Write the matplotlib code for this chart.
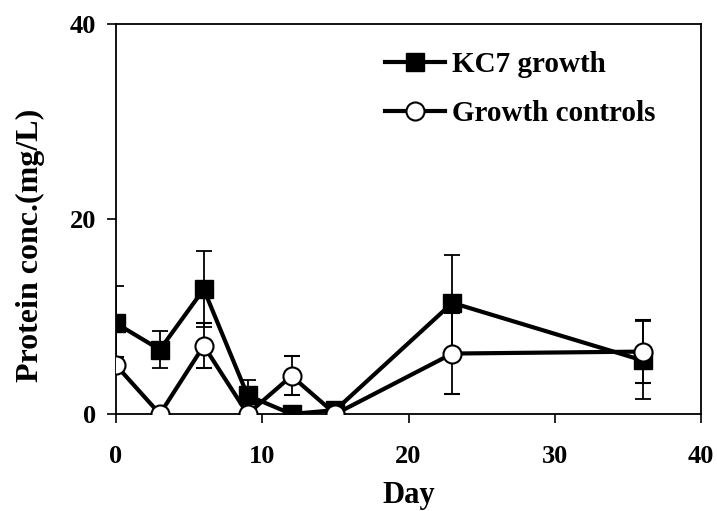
import matplotlib.pyplot as plt

plt.rcParams["font.family"] = ["Liberation Serif", "DejaVu Serif"]
plt.rcParams["font.weight"] = "bold"

days = [0, 3, 6, 9, 12, 15, 23, 36]

kc7_growth = [9.3, 6.6, 12.8, 1.9, 0.0, 0.4, 11.4, 5.5]
kc7_error = [3.8, 1.9, 3.9, 1.6, 0.0, 0.0, 4.9, 4.0]

growth_controls = [5.0, 0.0, 7.0, 0.0, 3.9, 0.0, 6.2, 6.4]
controls_error = [0.8, 0.0, 2.3, 0.0, 2.0, 0.0, 4.15, 3.2]

figure = plt.figure(figsize=(7.17, 5.11), dpi=100)
axis = figure.add_axes([116 / 717, 97 / 511, 585 / 717, 390 / 511])

axis.errorbar(
    days,
    kc7_growth,
    yerr=kc7_error,
    color="black",
    linewidth=3,
    marker="s",
    markersize=13,
    markerfacecolor="black",
    ecolor="black",
    elinewidth=1.3,
    capsize=6,
    capthick=1.3,
    label="KC7 growth",
    zorder=3,
)

axis.errorbar(
    days,
    growth_controls,
    yerr=controls_error,
    color="black",
    linewidth=3,
    marker="o",
    markersize=13,
    markerfacecolor="white",
    markeredgewidth=1.5,
    ecolor="black",
    elinewidth=1.3,
    capsize=6,
    capthick=1.3,
    label="Growth controls",
    zorder=4,
)

axis.set_xlim(0, 40)
axis.set_ylim(0, 40)
axis.set_xticks([0, 10, 20, 30, 40])
axis.set_yticks([0, 20, 40])

axis.tick_params(direction="out", length=6.5, width=1.2, labelsize=19)
axis.tick_params(axis="x", pad=15.5)
axis.tick_params(axis="y", pad=8)
for spine in axis.spines.values():
    spine.set_linewidth(1.3)

axis.set_xlabel("Day", fontsize=22, fontweight="bold", labelpad=10)
axis.set_ylabel("Protein conc.(mg/L)", fontsize=23, fontweight="bold")
axis.yaxis.set_label_coords(-0.122, 0.433)

handles, labels = axis.get_legend_handles_labels()
handles = [h[0] for h in handles]
axis.legend(
    handles,
    labels,
    loc="upper left",
    bbox_to_anchor=(0.460, 0.931),
    frameon=False,
    borderpad=0,
    borderaxespad=0,
    handlelength=2.05,
    handletextpad=0.24,
    labelspacing=0.77,
    prop={"weight": "bold", "size": 21},
)

figure.savefig("out.png", dpi=100)
